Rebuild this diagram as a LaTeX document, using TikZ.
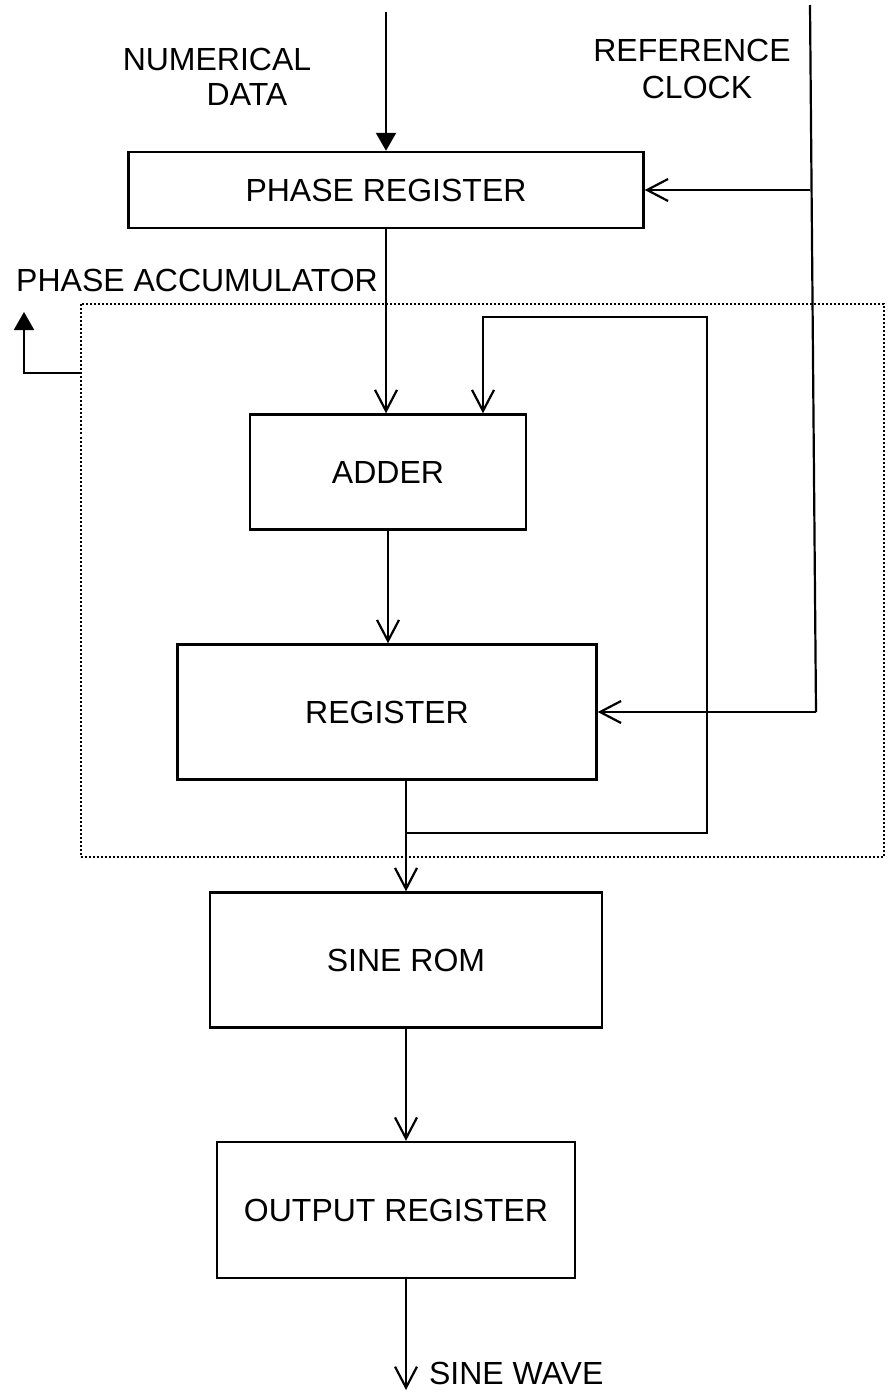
\documentclass[tikz,border=0pt]{standalone}
\usepackage{fontspec}
\setmainfont{Liberation Sans}
\usetikzlibrary{arrows.meta}
\begin{document}
\begin{tikzpicture}[x=1pt,y=-1pt,
  font=\fontsize{32}{36}\selectfont,
  line width=2.2pt,
  blk/.style={draw,rectangle,inner sep=0pt,line width=2.4pt},
  lbl/.style={inner sep=0pt},
  openarr/.style={-{Straight Barb[length=21pt,width=22pt,line width=2.2pt]}},
  fillarr/.style={-{Triangle[length=18pt,width=20pt]}},
  accbox/.style={draw,dotted,line width=2pt}]
\useasboundingbox (0,0) rectangle (887,1394);
% labels
\node[lbl] (num) at (217,59) {NUMERICAL};
\node[lbl] (data) at (247,94) {DATA};
\node[lbl] (ref) at (692,50) {REFERENCE};
\node[lbl] (clk) at (697,87) {CLOCK};
\node[lbl] (pacc) at (197,280) {PHASE ACCUMULATOR};
% phase accumulator dotted box
\node[accbox, minimum width=803pt, minimum height=553pt, inner sep=0pt] (acc) at (482,580) {};
% blocks
\node[blk, minimum width=515pt, minimum height=76pt] (preg) at (386,190) {PHASE REGISTER};
\node[blk, minimum width=276pt, minimum height=115pt] (adder) at (388,472) {ADDER};
\node[blk, minimum width=419pt, minimum height=135pt] (reg) at (387,712) {REGISTER};
\node[blk, minimum width=392pt, minimum height=135pt] (sine) at (406,960) {SINE ROM};
\node[blk, minimum width=358pt, minimum height=136pt] (outreg) at (396,1210) {OUTPUT REGISTER};
% coordinates
\coordinate (ndtop) at (386,12);
\coordinate (clktop) at (810,5);
\coordinate (clkbot) at (816,712);
\coordinate (j) at (406,833);
\coordinate (fb1) at (707,833);
\coordinate (fb2) at (707,317);
\coordinate (fb3) at (483,317);
\coordinate (accl) at (80,373);
\coordinate (acctip) at (24,312);
\coordinate (outend) at (406,1390);
% connectors
\draw[fillarr] (ndtop) -- (ndtop |- preg.north);
\draw (clktop) -- (clkbot);
\draw[openarr] (clkbot) -- (reg.east |- clkbot);
\draw[openarr] (preg.east -| clktop) -- (preg.east);
\draw[openarr] (preg.south) -- (preg.south |- adder.north);
\draw[openarr] (adder.south) -- (adder.south |- reg.north);
\draw (sine.north |- reg.south) -- (j);
\draw[openarr] (j) -- (sine.north);
\draw[openarr] (j) -- (fb1) -- (fb2) -- (fb3) -- (fb3 |- adder.north);
\draw[openarr] (sine.south) -- (sine.south |- outreg.north);
\draw[openarr] (outreg.south -| outend) -- (outend);
\draw[fillarr] (accl) -- (acctip |- accl) -- (acctip);
\node[lbl, anchor=west] (sw) at (428,1373) {SINE WAVE};
\end{tikzpicture}
\end{document}
